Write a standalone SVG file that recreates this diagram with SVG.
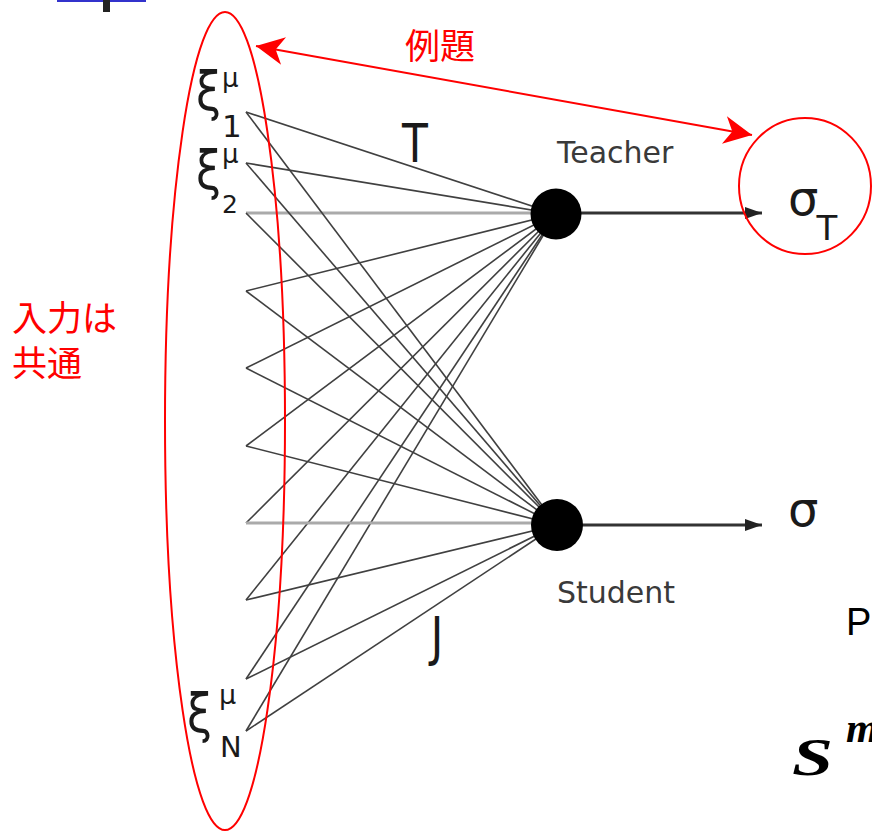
<svg xmlns="http://www.w3.org/2000/svg" width="872" height="831" viewBox="0 0 872 831">
  <style>
    .w { stroke: #404040; stroke-width: 1.6; fill: none; }
    .wg { stroke: #aaaaaa; stroke-width: 3; fill: none; }
    .out { stroke: #333333; stroke-width: 3; fill: none; }
    .neuron { fill: #000000; }
    .lbl { font-family: "DejaVu Sans", "Liberation Sans", sans-serif; fill: #1a1a1a; }
    .nm { font-family: "DejaVu Sans", "Liberation Sans", sans-serif; fill: #3a3a3a; font-size: 30px; }
    .red { font-family: "Noto Sans CJK JP", "Liberation Sans", sans-serif; fill: #ff0000; font-size: 35px; }
    .redline { stroke: #ff0000; stroke-width: 2; fill: none; }
  </style>
  <defs>
    <marker id="redhead" markerUnits="userSpaceOnUse" markerWidth="32" markerHeight="32" viewBox="-30 -16 32 32" refX="0" refY="0" orient="auto-start-reverse">
      <path d="M0,0 L-28,-14 L-20,0 L-28,14 Z" fill="#ff0000"/>
    </marker>
    <marker id="blackhead" markerUnits="userSpaceOnUse" markerWidth="20" markerHeight="14" viewBox="-18 -7 20 14" refX="0" refY="0" orient="auto">
      <path d="M0,0 L-17,-6 L-17,6 Z" fill="#222222"/>
    </marker>
  </defs>
  <rect width="872" height="831" fill="#ffffff"/>

  <!-- cut-off title fragment at top -->
  <g id="title-fragment">
    <rect x="57" y="0" width="89" height="2" fill="#3333cc"/>
    <rect x="103" y="0" width="7" height="12" fill="#222222"/>
  </g>

  <!-- connectors -->
  <g id="connectors">
    <!-- to teacher -->
    <line class="w" x1="246" y1="112" x2="556" y2="214"/>
    <line class="w" x1="246" y1="163" x2="556" y2="214"/>
    <line class="wg" x1="246" y1="213" x2="540" y2="213"/>
    <line class="w" x1="246" y1="291" x2="556" y2="214"/>
    <line class="w" x1="246" y1="368" x2="556" y2="214"/>
    <line class="w" x1="246" y1="446" x2="556" y2="214"/>
    <line class="w" x1="246" y1="523" x2="556" y2="214"/>
    <line class="w" x1="246" y1="600" x2="556" y2="214"/>
    <line class="w" x1="246" y1="679" x2="556" y2="214"/>
    <line class="w" x1="246" y1="731" x2="556" y2="214"/>
    <!-- to student -->
    <line class="w" x1="246" y1="112" x2="557" y2="525"/>
    <line class="w" x1="246" y1="163" x2="557" y2="525"/>
    <line class="w" x1="246" y1="213" x2="557" y2="525"/>
    <line class="w" x1="246" y1="291" x2="557" y2="525"/>
    <line class="w" x1="246" y1="368" x2="557" y2="525"/>
    <line class="w" x1="246" y1="446" x2="557" y2="525"/>
    <line class="wg" x1="246" y1="523" x2="540" y2="523"/>
    <line class="w" x1="246" y1="600" x2="557" y2="525"/>
    <line class="w" x1="246" y1="679" x2="557" y2="525"/>
    <line class="w" x1="246" y1="731" x2="557" y2="525"/>
    <!-- outputs -->
    <line class="out" x1="580" y1="213" x2="762" y2="213" marker-end="url(#blackhead)"/>
    <line class="out" x1="580" y1="525" x2="762" y2="525" marker-end="url(#blackhead)"/>
    <!-- red double arrow -->
    <line class="redline" x1="256" y1="46" x2="752" y2="135" marker-start="url(#redhead)" marker-end="url(#redhead)"/>
  </g>

  <!-- weight labels -->
  <g id="weight-T">
    <text class="lbl" transform="translate(415,162) scale(0.8,1)" text-anchor="middle" font-size="53" font-family="Liberation Sans, sans-serif">T</text>
  </g>
  <g id="weight-J">
    <text class="lbl" transform="translate(437,655) scale(0.8,1)" text-anchor="middle" font-size="53" font-family="Liberation Sans, sans-serif">J</text>
  </g>

  <!-- input nodes -->
  <g id="input-1">
    <text class="lbl" transform="translate(196,110) scale(0.9,1.05)" font-size="50">ξ</text>
    <text class="lbl" x="222" y="87" font-size="26">μ</text>
    <text class="lbl" x="222" y="137" font-size="31">1</text>
  </g>
  <g id="input-2">
    <text class="lbl" transform="translate(196,189) scale(0.9,1.05)" font-size="50">ξ</text>
    <text class="lbl" x="222" y="163" font-size="26">μ</text>
    <text class="lbl" x="222" y="213" font-size="25">2</text>
  </g>
  <g id="input-N">
    <text class="lbl" transform="translate(187,732) scale(0.9,1.05)" font-size="50">ξ</text>
    <text class="lbl" x="219" y="704" font-size="27">μ</text>
    <text class="lbl" x="220" y="757" font-size="29">N</text>
  </g>

  <!-- teacher -->
  <g id="teacher">
    <circle class="neuron" cx="556" cy="214" r="25.5"/>
    <text class="nm" x="557" y="163">Teacher</text>
  </g>
  <!-- student -->
  <g id="student">
    <circle class="neuron" cx="557" cy="525" r="26"/>
    <text class="nm" x="557" y="603">Student</text>
  </g>

  <!-- outputs -->
  <g id="sigma-T">
    <text class="lbl" x="788" y="215" font-size="48">σ</text>
    <text class="lbl" x="827" y="240" font-size="34" text-anchor="middle">T</text>
  </g>
  <g id="sigma-S">
    <text class="lbl" x="788" y="526" font-size="48">σ</text>
  </g>

  <!-- red annotations -->
  <g id="input-ellipse">
    <ellipse class="redline" cx="225" cy="421" rx="60" ry="409"/>
  </g>
  <g id="output-circle">
    <ellipse class="redline" cx="805" cy="186" rx="66" ry="68"/>
  </g>
  <g id="label-example">
    <text class="red" x="405" y="59" font-size="36">例題</text>
  </g>
  <g id="label-common">
    <text class="red" x="12" y="331">入力は</text>
    <text class="red" x="12" y="376">共通</text>
  </g>

  <!-- cut-off fragments at right edge -->
  <g id="right-fragment">
    <text x="846" y="635" font-family="Liberation Sans, sans-serif" font-size="38" fill="#000000">P</text>
    <text x="792" y="775" font-family="Liberation Serif, serif" font-weight="bold" font-style="italic" font-size="53" fill="#000000" textLength="41" lengthAdjust="spacingAndGlyphs">S</text>
    <text x="846" y="742" font-family="Liberation Serif, serif" font-weight="bold" font-style="italic" font-size="42" fill="#000000">m</text>
  </g>
</svg>
